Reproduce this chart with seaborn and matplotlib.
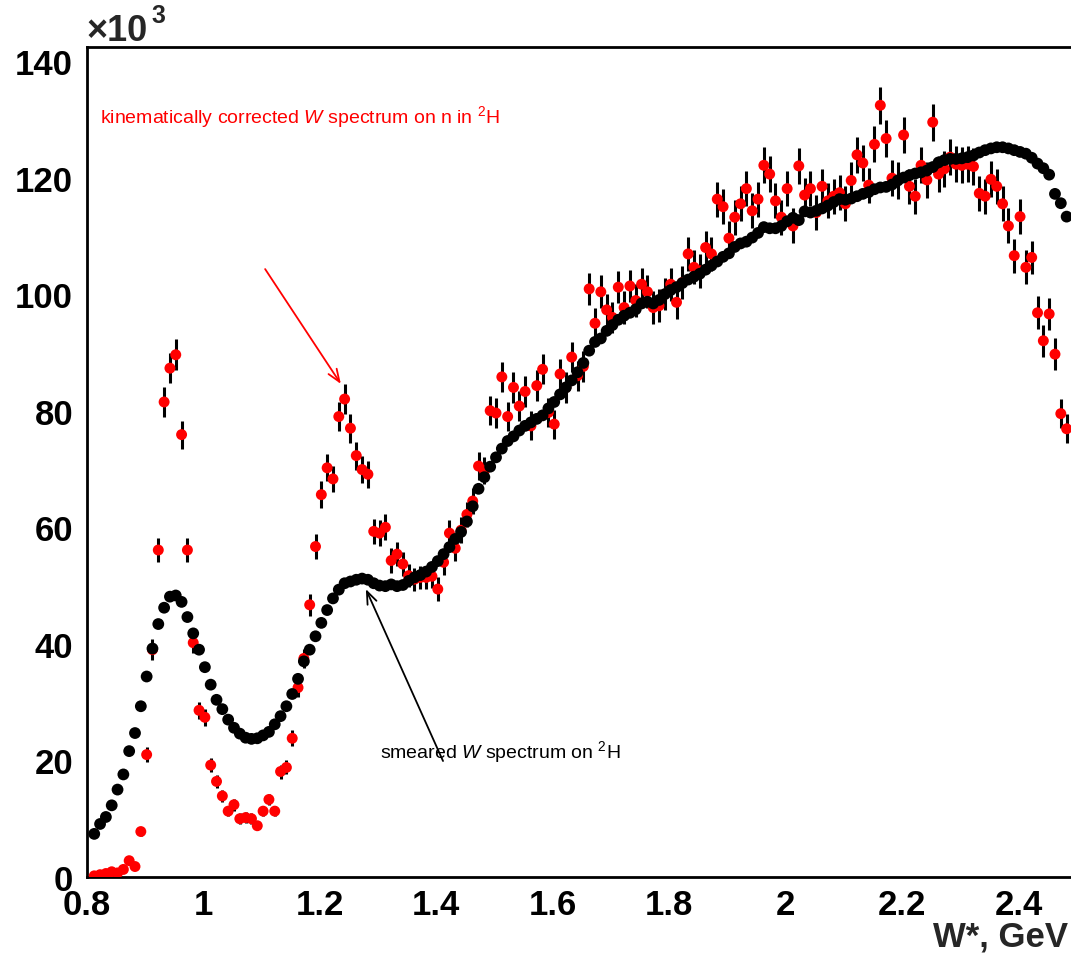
import numpy as np
import pandas as pd
import matplotlib
matplotlib.use("Agg")
import matplotlib.pyplot as plt
import seaborn as sns
from matplotlib.ticker import MultipleLocator, FuncFormatter

# W* bin centres (GeV), 0.01 GeV wide bins
w_bins = np.round(np.arange(168) * 0.01 + 0.8125, 4)

# smeared W spectrum on 2H (x10^3), black points
smeared = [
    7.4, 9.1, 10.3, 12.3, 15.0, 17.6, 21.6, 24.7, 29.3, 34.4,
    39.2, 43.4, 46.2, 48.1, 48.3, 47.2, 44.6, 41.8, 39.0, 36.0,
    33.0, 30.4, 28.8, 27.0, 25.6, 24.6, 23.9, 23.7, 23.8, 24.3,
    24.9, 26.2, 27.6, 29.3, 31.4, 34.0, 37.0, 39.0, 41.3, 43.6,
    45.8, 47.8, 49.3, 50.4, 50.7, 51.0, 51.2, 51.0, 50.4, 50.0,
    49.9, 50.2, 49.9, 50.1, 50.8, 51.4, 51.8, 52.4, 53.2, 54.2,
    55.4, 56.6, 58.0, 59.2, 61.0, 63.6, 66.6, 68.6, 70.4, 72.0,
    73.5, 74.8, 75.6, 76.6, 77.4, 78.0, 78.6, 79.2, 80.4, 81.5,
    82.8, 84.0, 85.2, 86.6, 88.2, 90.3, 91.8, 92.4, 93.7, 94.7,
    95.6, 96.3, 96.8, 97.4, 98.4, 98.7, 98.4, 99.0, 100.0, 100.7,
    101.2, 101.9, 102.5, 103.0, 103.5, 104.2, 104.9, 105.6, 106.4, 107.0,
    108.1, 108.7, 109.0, 109.7, 110.5, 111.5, 111.3, 111.3, 111.7, 112.5,
    113.1, 112.7, 114.2, 114.0, 114.3, 114.7, 115.2, 115.8, 116.3, 116.2,
    116.4, 116.8, 117.2, 117.5, 118.0, 118.3, 118.4, 118.8, 119.5, 120.0,
    120.4, 120.7, 120.9, 121.2, 121.8, 122.6, 123.0, 123.2, 123.2, 123.3,
    123.5, 123.8, 124.3, 124.7, 125.0, 125.2, 125.2, 125.0, 124.7, 124.4,
    124.1, 123.4, 122.4, 121.6, 120.5, 117.2, 115.6, 113.3,
]

# kinematically corrected W spectrum on n in 2H (x10^3), red points
corrected = [
    0.2, 0.4, 0.6, 0.9, 0.7, 1.3, 2.8, 1.8, 7.8, 21.0,
    39.0, 56.1, 81.5, 87.3, 89.6, 75.9, 56.1, 40.2, 28.6, 27.4,
    19.2, 16.4, 13.9, 11.3, 12.4, 10.0, 10.2, 10.0, 8.8, 11.3,
    13.3, 11.3, 18.1, 18.8, 23.8, 32.5, 37.5, 46.7, 56.7, 65.6,
    70.2, 68.3, 79.0, 82.0, 77.0, 72.3, 69.9, 69.1, 59.3, 59.0,
    60.0, 54.3, 55.4, 53.7, 51.7, 51.1, 51.4, 51.4, 51.6, 49.4,
    54.0, 59.0, 56.4, 59.5, 62.2, 64.5, 70.5, 69.7, 80.0, 79.6,
    85.8, 79.0, 84.0, 80.8, 83.3, 77.4, 84.3, 87.1, 79.7, 77.7,
    86.3, 84.0, 89.2, 86.0, 87.6, 100.9, 95.0, 100.4, 97.3, 96.0,
    101.2, 97.7, 101.4, 98.9, 101.7, 100.4, 97.7, 98.0, 100.0, 101.7,
    98.6, 102.0, 106.9, 104.6, 104.0, 108.0, 106.9, 116.3, 115.0, 109.6,
    113.2, 115.5, 118.1, 114.3, 116.3, 122.1, 120.6, 116.0, 113.2, 118.1,
    111.7, 122.0, 117.0, 118.1, 114.0, 118.5, 116.0, 116.8, 117.4, 115.5,
    119.5, 123.9, 122.5, 118.7, 125.7, 132.4, 126.7, 119.9, 119.5, 127.3,
    118.5, 116.8, 122.1, 119.6, 129.5, 120.6, 121.5, 123.5, 122.3, 122.1,
    122.3, 121.9, 117.3, 116.8, 119.7, 118.5, 115.5, 111.7, 106.6, 113.3,
    104.6, 106.3, 96.8, 92.0, 96.6, 89.7, 79.5, 76.9,
]

# error bars of the red points (x10^3)
corrected_err = [
    0.2, 0.2, 0.2, 0.3, 0.3, 0.3, 0.5, 0.4, 0.8, 1.3,
    1.8, 2.1, 2.5, 2.6, 2.7, 2.4, 2.1, 1.8, 1.5, 1.5,
    1.2, 1.1, 1.0, 0.9, 1.0, 0.9, 0.9, 0.9, 0.8, 0.9,
    1.0, 0.9, 1.2, 1.2, 1.4, 1.6, 1.7, 1.9, 2.1, 2.3,
    2.3, 2.3, 2.5, 2.5, 2.5, 2.4, 2.3, 2.3, 2.2, 2.2,
    2.2, 2.1, 2.1, 2.1, 2.0, 2.0, 2.0, 2.0, 2.0, 2.0,
    2.1, 2.2, 2.1, 2.2, 2.2, 2.2, 2.4, 2.3, 2.5, 2.5,
    2.6, 2.5, 2.6, 2.5, 2.6, 2.5, 2.6, 2.6, 2.5, 2.5,
    2.6, 2.6, 2.6, 2.6, 2.6, 2.8, 2.7, 2.8, 2.8, 2.7,
    2.8, 2.8, 2.8, 2.8, 2.8, 2.8, 2.8, 2.8, 2.8, 2.8,
    2.8, 2.8, 2.9, 2.9, 2.9, 2.9, 2.9, 3.0, 3.0, 2.9,
    3.0, 3.0, 3.0, 3.0, 3.0, 3.1, 3.1, 3.0, 3.0, 3.0,
    3.0, 3.1, 3.0, 3.0, 3.0, 3.0, 3.0, 3.0, 3.0, 3.0,
    3.1, 3.1, 3.1, 3.0, 3.1, 3.2, 3.1, 3.1, 3.1, 3.1,
    3.0, 3.0, 3.1, 3.1, 3.2, 3.1, 3.1, 3.1, 3.1, 3.1,
    3.1, 3.1, 3.0, 3.0, 3.1, 3.0, 3.0, 3.0, 2.9, 3.0,
    2.9, 2.9, 2.8, 2.7, 2.8, 2.7, 2.5, 2.5,
]

sns.set_style("white")
plt.rcParams["font.family"] = ["Liberation Sans", "DejaVu Sans"]
plt.rcParams["mathtext.fontset"] = "custom"
plt.rcParams["mathtext.rm"] = "Liberation Sans"
plt.rcParams["mathtext.it"] = "Liberation Sans:italic"

df = pd.concat([
    pd.DataFrame({"W": w_bins, "counts": corrected, "spectrum": "corrected"}),
    pd.DataFrame({"W": w_bins, "counts": smeared, "spectrum": "smeared"}),
])

fig = plt.figure(figsize=(10.71, 9.62), dpi=100)
ax = fig.add_axes([0.0812, 0.0873, 0.9188, 0.8628])

# red points with black vertical error bars, black points drawn on top
ax.errorbar(w_bins, corrected, yerr=corrected_err, fmt="none",
            ecolor="black", elinewidth=2.2, capsize=0, zorder=2)
sns.scatterplot(data=df, x="W", y="counts", hue="spectrum",
                palette={"corrected": "#ff0000", "smeared": "black"},
                size="spectrum", sizes={"corrected": 62, "smeared": 72},
                linewidth=0, legend=False, ax=ax, zorder=3)

ax.set_xlim(0.8, 2.49)
ax.set_ylim(0, 142.4)
ax.set_xlabel("")
ax.set_ylabel("")

ax.xaxis.set_major_locator(MultipleLocator(0.2))
ax.xaxis.set_minor_locator(MultipleLocator(0.05))
ax.yaxis.set_major_locator(MultipleLocator(20))
ax.yaxis.set_minor_locator(MultipleLocator(5))
ax.xaxis.set_major_formatter(FuncFormatter(lambda v, p: f"{v:g}"))
ax.yaxis.set_major_formatter(FuncFormatter(lambda v, p: f"{v:g}"))

ax.tick_params(axis="both", which="both", direction="in", width=1.6,
               colors="black", labelsize=25, top=False, right=False)
ax.tick_params(axis="y", which="major", length=24, pad=10)
ax.tick_params(axis="y", which="minor", length=11.5)
ax.tick_params(axis="x", which="major", length=17, pad=8)
ax.tick_params(axis="x", which="minor", length=8.5)
for lab in ax.get_xticklabels() + ax.get_yticklabels():
    lab.set_fontweight("bold")

for side in ["left", "bottom", "top"]:
    ax.spines[side].set_linewidth(2.0)
    ax.spines[side].set_color("black")
ax.spines["right"].set_visible(False)

# axis title and exponent
fig.text(0.997, 0.026, "W*, GeV", ha="right", va="center",
         fontsize=25, fontweight="bold")
fig.text(0.081, 0.967, "×10", ha="left", va="center",
         fontsize=26, fontweight="bold")
fig.text(0.141, 0.983, "3", ha="left", va="center",
         fontsize=18, fontweight="bold")

# annotations
ax.text(0.8223, 130.5, r"kinematically corrected $\mathit{W}$ spectrum on n in $^{2}$H",
        color="#ff0000", fontsize=14, ha="left", va="center")
ax.annotate("", xy=(1.236, 84.6), xytext=(1.106, 104.3),
            arrowprops=dict(arrowstyle="->,head_length=0.9,head_width=0.35",
                            color="#ff0000", lw=1.3, shrinkA=0, shrinkB=0))
ax.text(1.3033, 21.6, r"smeared $\mathit{W}$ spectrum on $^{2}$H",
        color="black", fontsize=14, ha="left", va="center")
ax.annotate("", xy=(1.279, 49.4), xytext=(1.4115, 19.9),
            arrowprops=dict(arrowstyle="->,head_length=0.9,head_width=0.35",
                            color="black", lw=1.3, shrinkA=0, shrinkB=0))

fig.savefig("out.png", dpi=100)
